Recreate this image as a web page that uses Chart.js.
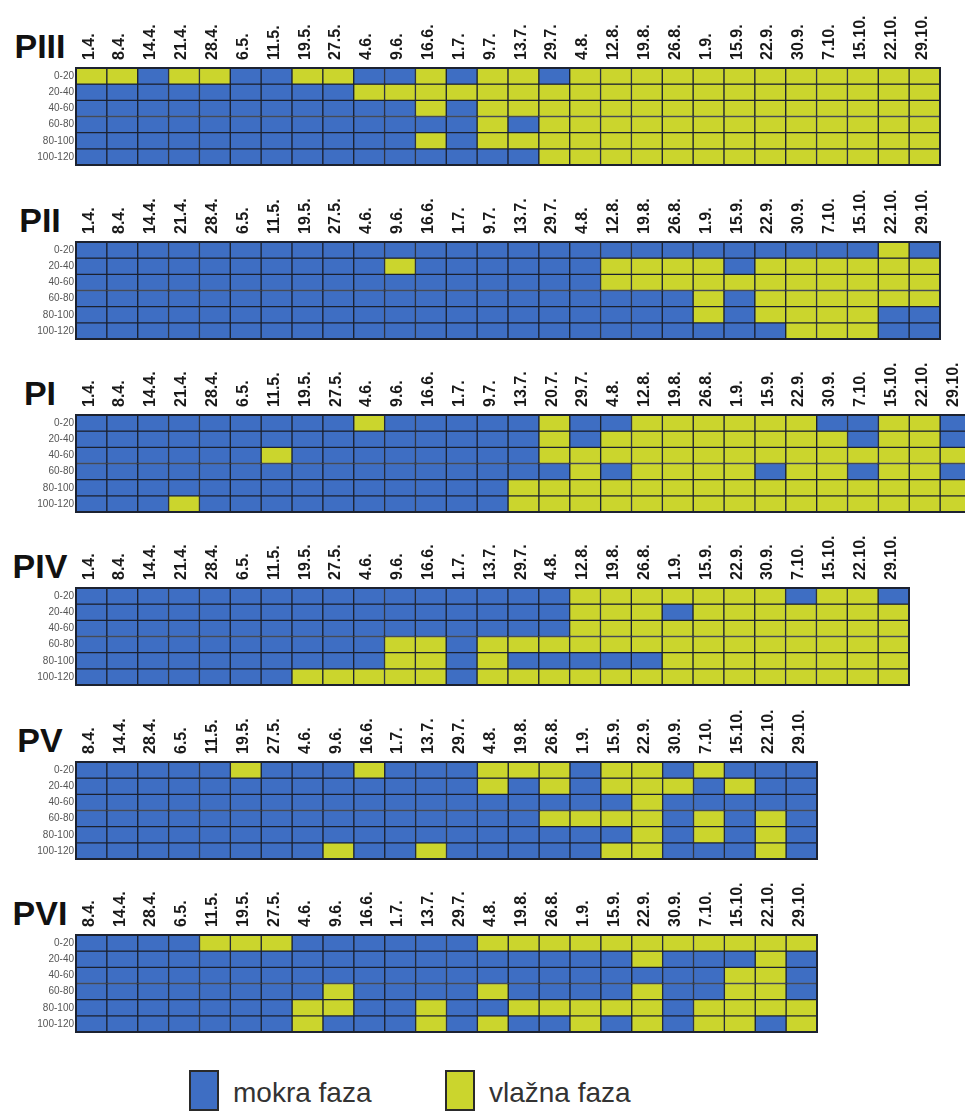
<!DOCTYPE html>
<html>
<head>
<meta charset="utf-8">
<script src="https://cdn.jsdelivr.net/npm/chart.js@4.4.1/dist/chart.umd.min.js"></script>
<style>
    html, body { margin: 0; padding: 0; background: #fff; overflow: hidden; }
    body { width: 965px; height: 1115px; position: relative; font-family: "Liberation Sans", Arial, sans-serif; }
    canvas { position: absolute; left: 0; }
    .title { position: absolute; left: 0; width: 80px; text-align: center; font-weight: bold; font-size: 34px; line-height: 34px; color: #111; }
    .swatch { position: absolute; width: 26px; height: 37px; border: 2px solid #2a2a2a; }
    .legend-text { position: absolute; font-size: 28px; line-height: 28px; color: #333; }
</style>
</head>
<body>
<script>
"use strict";

var depths = ["0-20", "20-40", "40-60", "60-80", "80-100", "100-120"];

var datesP23 = ["1.4.", "8.4.", "14.4.", "21.4.", "28.4.", "6.5.", "11.5.", "19.5.", "27.5.", "4.6.", "9.6.", "16.6.", "1.7.", "9.7.", "13.7.", "29.7.", "4.8.", "12.8.", "19.8.", "26.8.", "1.9.", "15.9.", "22.9.", "30.9.", "7.10.", "15.10.", "22.10.", "29.10."];
var datesP1 = ["1.4.", "8.4.", "14.4.", "21.4.", "28.4.", "6.5.", "11.5.", "19.5.", "27.5.", "4.6.", "9.6.", "16.6.", "1.7.", "9.7.", "13.7.", "20.7.", "29.7.", "4.8.", "12.8.", "19.8.", "26.8.", "1.9.", "15.9.", "22.9.", "30.9.", "7.10.", "15.10.", "22.10.", "29.10."];
var datesP4 = ["1.4.", "8.4.", "14.4.", "21.4.", "28.4.", "6.5.", "11.5.", "19.5.", "27.5.", "4.6.", "9.6.", "16.6.", "1.7.", "13.7.", "29.7.", "4.8.", "12.8.", "19.8.", "26.8.", "1.9.", "15.9.", "22.9.", "30.9.", "7.10.", "15.10.", "22.10.", "29.10."];
var datesP56 = ["8.4.", "14.4.", "28.4.", "6.5.", "11.5.", "19.5.", "27.5.", "4.6.", "9.6.", "16.6.", "1.7.", "13.7.", "29.7.", "4.8.", "19.8.", "26.8.", "1.9.", "15.9.", "22.9.", "30.9.", "7.10.", "15.10.", "22.10.", "29.10."];

// M = mokra faza, V = vlažna faza; one string per depth, one letter per date
var phasesPIII = [
    "VVMVVMMVVMMVMVVMVVVVVVVVVVVV",
    "MMMMMMMMMVVVVVVVVVVVVVVVVVVV",
    "MMMMMMMMMMMVMVVVVVVVVVVVVVVV",
    "MMMMMMMMMMMMMVMVVVVVVVVVVVVV",
    "MMMMMMMMMMMVMVVVVVVVVVVVVVVV",
    "MMMMMMMMMMMMMMMVVVVVVVVVVVVV"
];
var phasesPII = [
    "MMMMMMMMMMMMMMMMMMMMMMMMMMVM",
    "MMMMMMMMMMVMMMMMMVVVVMVVVVVV",
    "MMMMMMMMMMMMMMMMMVVVVVVVVVVV",
    "MMMMMMMMMMMMMMMMMMMMVMVVVVVV",
    "MMMMMMMMMMMMMMMMMMMMVMVVVVMM",
    "MMMMMMMMMMMMMMMMMMMMMMMVVVMM"
];
var phasesPI = [
    "MMMMMMMMMVMMMMMVMMVVVVVVMMVVM",
    "MMMMMMMMMMMMMMMVMVVVVVVVVMVVM",
    "MMMMMMVMMMMMMMMVVVVVVVVVVVVVV",
    "MMMMMMMMMMMMMMMMVMVVVVMVVMVVM",
    "MMMMMMMMMMMMMMVVVVVVVVVVVVVVV",
    "MMMVMMMMMMMMMMVVVVVVVVVVVVVVV"
];
var phasesPIV = [
    "MMMMMMMMMMMMMMMMVVVVVVVMVVM",
    "MMMMMMMMMMMMMMMMVVVMVVVVVVV",
    "MMMMMMMMMMMMMMMMVVVVVVVVVVV",
    "MMMMMMMMMMVVMVVVVVVVVVVVVVV",
    "MMMMMMMMMMVVMVMMMMMVVVVVVVV",
    "MMMMMMMVVVVVMVVVVVVVVVVVVVV"
];
var phasesPV = [
    "MMMMMVMMMVMMMVVVMVVMVMMM",
    "MMMMMMMMMMMMMVMVMVVVMVMM",
    "MMMMMMMMMMMMMMMMMMVMMMMM",
    "MMMMMMMMMMMMMMMVVVVMVMVM",
    "MMMMMMMMMMMMMMMMMMVMVMVM",
    "MMMMMMMMVMMVMMMMMVVMMMVM"
];
var phasesPVI = [
    "MMMMVVVMMMMMMVVVVVVVVVVV",
    "MMMMMMMMMMMMMMMMMMVMMMVM",
    "MMMMMMMMMMMMMMMMMMMMMVVM",
    "MMMMMMMMVMMMMVMMMMVMMVVM",
    "MMMMMMMVVMMVMMVVVVVMVVVV",
    "MMMMMMMVMMMVMVMMVMVMVVMV"
];

var colors = { M: "#3e6ec3", V: "#cbd52d" };
var lineColor = "#1c2230";

var cellWidth = 30.87;
var gridLeft = 76;
var gridHeight = 104;
var axisHeight = 60;

var panels = [
    { name: "PIII", dates: datesP23, phases: phasesPIII, top: 68 },
    { name: "PII", dates: datesP23, phases: phasesPII, top: 242 },
    { name: "PI", dates: datesP1, phases: phasesPI, top: 415 },
    { name: "PIV", dates: datesP4, phases: phasesPIV, top: 588 },
    { name: "PV", dates: datesP56, phases: phasesPV, top: 762 },
    { name: "PVI", dates: datesP56, phases: phasesPVI, top: 935 }
];

var framePlugin = {
    id: "frame",
    afterDatasetsDraw: function(chart) {
        var a = chart.chartArea, ctx = chart.ctx;
        ctx.save();
        ctx.strokeStyle = lineColor;
        ctx.lineWidth = 2;
        ctx.strokeRect(a.left, a.top, a.right - a.left, a.bottom - a.top);
        ctx.restore();
    }
};

panels.forEach(function(p) {
    var title = document.createElement("div");
    title.className = "title";
    title.style.top = (p.top - 39) + "px";
    title.textContent = p.name;
    document.body.appendChild(title);

    var canvas = document.createElement("canvas");
    var w = Math.round(gridLeft + p.dates.length * cellWidth + 1);
    var h = axisHeight + gridHeight + 1;
    canvas.width = w;
    canvas.height = h;
    canvas.style.width = w + "px";
    canvas.style.height = h + "px";
    canvas.style.top = (p.top - axisHeight) + "px";
    document.body.appendChild(canvas);

    var datasets = p.phases.map(function(row, r) {
        return {
            label: depths[r],
            data: p.dates.map(function() { return [r, r + 1]; }),
            backgroundColor: row.split("").map(function(c) { return colors[c]; }),
            borderColor: lineColor,
            borderWidth: 1,
            borderSkipped: false,
            grouped: false,
            categoryPercentage: 1,
            barPercentage: 1
        };
    });

    new Chart(canvas.getContext("2d"), {
        type: "bar",
        data: { labels: p.dates, datasets: datasets },
        options: {
            responsive: false,
            animation: false,
            layout: { padding: { right: 1, bottom: 1, left: 0, top: 0 } },
            plugins: { legend: { display: false }, tooltip: { enabled: false } },
            scales: {
                x: {
                    position: "top",
                    grid: { display: false, drawTicks: false },
                    border: { display: false },
                    ticks: {
                        autoSkip: false,
                        maxRotation: 90,
                        minRotation: 90,
                        padding: 8,
                        labelOffset: 17,
                        color: "#1a1a1a",
                        font: { family: "'Liberation Sans', Arial, sans-serif", size: 16, weight: "bold" }
                    },
                    afterFit: function(scale) { scale.height = axisHeight; }
                },
                y: {
                    reverse: true,
                    min: 0,
                    max: 6,
                    grid: { display: false, drawTicks: false },
                    border: { display: false },
                    afterBuildTicks: function(scale) {
                        scale.ticks = depths.map(function(d, i) { return { value: i + 0.5 }; });
                    },
                    ticks: {
                        padding: 2,
                        color: "#555",
                        font: { family: "'Liberation Sans', Arial, sans-serif", size: 10 },
                        callback: function(value, index) { return depths[index]; }
                    },
                    afterFit: function(scale) { scale.width = gridLeft; }
                }
            }
        },
        plugins: [framePlugin]
    });
});

// legend
var legendItems = [
    { text: "mokra faza", color: colors.M, x: 189 },
    { text: "vlažna faza", color: colors.V, x: 445 }
];
legendItems.forEach(function(item) {
    var sw = document.createElement("div");
    sw.className = "swatch";
    sw.style.left = item.x + "px";
    sw.style.top = "1070px";
    sw.style.background = item.color;
    document.body.appendChild(sw);

    var t = document.createElement("div");
    t.className = "legend-text";
    t.style.left = (item.x + 44) + "px";
    t.style.top = "1079px";
    t.textContent = item.text;
    document.body.appendChild(t);
});
</script>
</body>
</html>
